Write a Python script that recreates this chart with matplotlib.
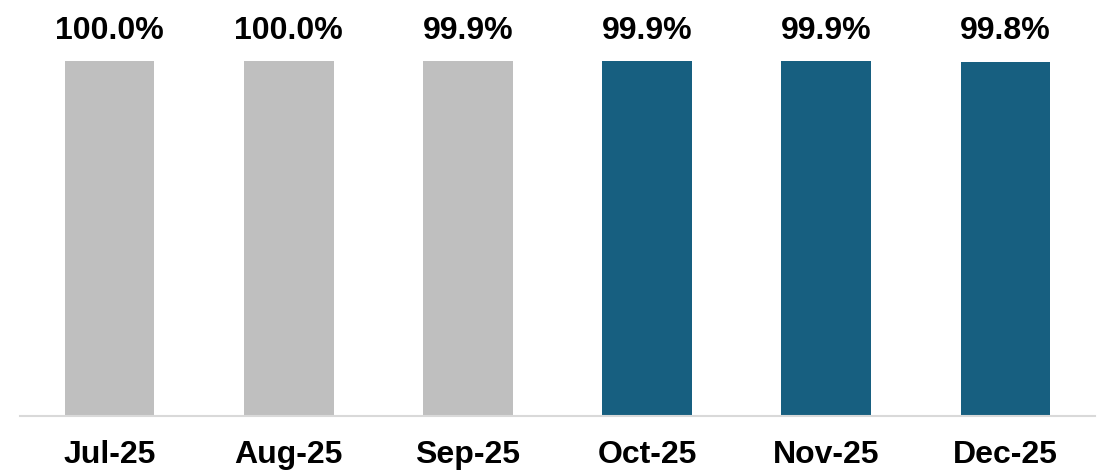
import matplotlib.pyplot as plt

# data
months = ["Jul-25", "Aug-25", "Sep-25", "Oct-25", "Nov-25", "Dec-25"]
values = [100.0, 100.0, 99.9, 99.9, 99.9, 99.8]
colors = ["#BFBFBF", "#BFBFBF", "#BFBFBF", "#175F80", "#175F80", "#175F80"]

plt.rcParams['font.family'] = ['Liberation Sans', 'DejaVu Sans']

fig = plt.figure(figsize=(11.07, 4.70), dpi=100)
ax = fig.add_axes([20 / 1107, 54 / 470, 1075 / 1107, 416 / 470])

x = range(len(months))
bars = ax.bar(x, values, width=0.5, color=colors)
ax.set_xlim(-0.5, len(months) - 0.5)
ax.set_ylim(0, 117.2)

for b, v in zip(bars, values):
    ax.text(b.get_x() + b.get_width() / 2, b.get_height() + 4.3, f"{v:.1f}%",
            ha='center', va='bottom', fontsize=23, fontweight='bold')

ax.set_xticks(list(x))
ax.set_xticklabels(months, fontsize=23, fontweight='bold')
ax.tick_params(axis='x', length=0, pad=17)
ax.set_yticks([])
for s in ['top', 'right', 'left']:
    ax.spines[s].set_visible(False)
ax.spines['bottom'].set_color('#D9D9D9')
ax.spines['bottom'].set_linewidth(1.5)

fig.savefig("out.png", dpi=100)
